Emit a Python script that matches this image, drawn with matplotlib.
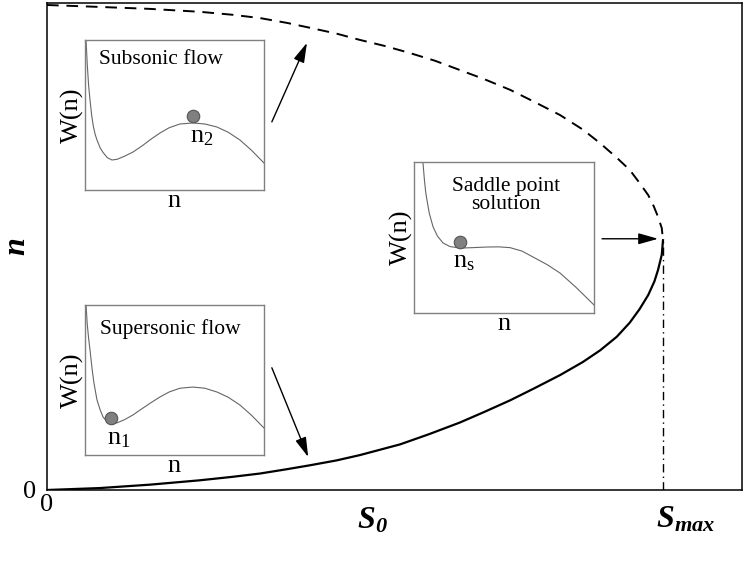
import matplotlib
matplotlib.use('Agg')
import matplotlib.pyplot as plt

plt.rcParams['font.family'] = ['Liberation Serif', 'DejaVu Serif']
plt.rcParams['mathtext.fontset'] = 'custom'
plt.rcParams['mathtext.rm'] = 'Liberation Serif'
plt.rcParams['mathtext.it'] = 'Liberation Serif:italic'
plt.rcParams['mathtext.bf'] = 'Liberation Serif:italic:bold'

# main curve, S0 (in units of S_max) against n (in units of its top value)
s0_lower = [0, 0.086, 0.167, 0.248, 0.30, 0.346, 0.39, 0.427, 0.47, 0.508, 0.573,
            0.62, 0.670, 0.71, 0.752, 0.79, 0.833, 0.87, 0.898, 0.925, 0.946,
            0.962, 0.976, 0.986, 0.992, 0.998, 1.0]
n_lower = [0, 0.004, 0.011, 0.020, 0.027, 0.034, 0.043, 0.051, 0.061, 0.072, 0.094,
           0.115, 0.139, 0.161, 0.185, 0.209, 0.237, 0.264, 0.288, 0.316, 0.345,
           0.373, 0.402, 0.43, 0.454, 0.485, 0.515]
s0_upper = [0, 0.086, 0.167, 0.248, 0.30, 0.346, 0.39, 0.427, 0.47, 0.508, 0.55,
            0.589, 0.630, 0.670, 0.71, 0.752, 0.79, 0.833, 0.87, 0.898, 0.925,
            0.946, 0.962, 0.976, 0.985, 0.992, 0.998, 1.0]
n_upper = [1.0, 0.996, 0.992, 0.986, 0.980, 0.973, 0.963, 0.953, 0.941, 0.928, 0.915,
           0.901, 0.885, 0.866, 0.847, 0.825, 0.801, 0.773, 0.743, 0.715, 0.685,
           0.660, 0.633, 0.608, 0.585, 0.563, 0.540, 0.515]
s_max = 1.0
n_s = 0.515

# potential W(n) in the insets (normalised to the inset box)
sub_n = [0.006, 0.012, 0.02, 0.028, 0.037, 0.047, 0.057, 0.067, 0.085, 0.101, 0.125,
         0.151, 0.18, 0.22, 0.268, 0.32, 0.37, 0.419, 0.47, 0.53, 0.603, 0.67,
         0.737, 0.80, 0.866, 0.93, 1.0]
sub_w = [1.0, 0.85, 0.70, 0.60, 0.50, 0.422, 0.37, 0.333, 0.28, 0.25, 0.215,
         0.20, 0.205, 0.225, 0.253, 0.295, 0.34, 0.38, 0.415, 0.44, 0.447, 0.44,
         0.42, 0.385, 0.333, 0.265, 0.18]
sub_dot = (0.603, 0.493)

sup_n = [0.006, 0.012, 0.02, 0.028, 0.04, 0.05, 0.067, 0.085, 0.101, 0.125, 0.151,
         0.18, 0.22, 0.268, 0.32, 0.37, 0.419, 0.47, 0.53, 0.603, 0.67, 0.737,
         0.80, 0.866, 0.93, 1.0]
sup_w = [1.0, 0.88, 0.78, 0.70, 0.57, 0.48, 0.367, 0.30, 0.253, 0.222, 0.207,
         0.215, 0.235, 0.267, 0.31, 0.35, 0.387, 0.42, 0.445, 0.453, 0.445, 0.42,
         0.385, 0.333, 0.265, 0.18]
sup_dot = (0.145, 0.247)

sad_n = [0.05, 0.058, 0.065, 0.072, 0.085, 0.106, 0.13, 0.161, 0.2, 0.256, 0.33,
         0.406, 0.47, 0.533, 0.6, 0.661, 0.74, 0.811, 0.9, 1.0]
sad_w = [0.993, 0.88, 0.80, 0.748, 0.66, 0.57, 0.51, 0.464, 0.44, 0.43, 0.433,
         0.437, 0.438, 0.433, 0.41, 0.371, 0.32, 0.265, 0.17, 0.053]
sad_dot = (0.256, 0.470)

W, H = 747, 565
fig = plt.figure(figsize=(W / 100, H / 100), dpi=100)


def px_box(left, top, right, bottom):
    return [left / W, (H - bottom) / H, (right - left) / W, (bottom - top) / H]


ax = fig.add_axes(px_box(47, 3, 742, 490))
ax.plot(s0_lower, n_lower, color='black', lw=1.6)
ax.plot(s0_upper, n_upper, color='black', lw=1.4, ls=(0, (6, 4)))
ax.plot([s_max, s_max], [0, n_s], color='black', lw=1.0, ls=(0, (6, 3, 1, 3)))
ax.set_xlim(0, 695 / 616)
ax.set_ylim(0, 487 / 485)
for sp in ax.spines.values():
    sp.set_linewidth(1.1)
ax.set_xticks([0])
ax.set_yticks([0])
ax.set_xticklabels(['0'], fontsize=19)
ax.set_yticklabels(['0'], fontsize=19)
ax.tick_params(axis='x', length=0, pad=3)
ax.tick_params(axis='y', length=0, pad=8)

ax.text(0.468, -0.063, r'$\mathbf{S_0}$', transform=ax.transAxes,
        ha='center', va='center', fontsize=23)
ax.text(-0.042, 0.5, r'$\mathbf{n}$', transform=ax.transAxes, rotation=90,
        ha='center', va='center', fontsize=23)
ax.text(1.036, -0.062, r'$\mathbf{S_{max}}$', transform=ax.get_xaxis_transform(),
        ha='center', va='center', fontsize=23)

arrow = dict(arrowstyle='-|>,head_length=0.6,head_width=0.17', color='black',
             lw=1.0, shrinkA=0, shrinkB=0, mutation_scale=20)
ax.annotate('', xy=(0.422, 0.922), xytext=(0.365, 0.759), arrowprops=arrow)
ax.annotate('', xy=(0.424, 0.068), xytext=(0.365, 0.252), arrowprops=arrow)
ax.annotate('', xy=(0.992, 0.518), xytext=(0.901, 0.518), arrowprops=arrow)


def inset(box, xs, ys, dot, title, title_xy, lab, lab_xy):
    a = fig.add_axes(px_box(*box))
    a.plot(xs, ys, color='#666666', lw=0.8)
    a.plot(*dot, 'o', ms=9, color='#808080', mec='#555555', mew=0.8)
    a.set_xlim(0, 1)
    a.set_ylim(0, 1)
    a.set_xticks([])
    a.set_yticks([])
    for sp in a.spines.values():
        sp.set_color('#808080')
        sp.set_linewidth(1.0)
    a.set_xlabel('n', fontsize=19, labelpad=0)
    a.set_ylabel('W(n)', fontsize=19, labelpad=1)
    a.text(*title_xy, title, transform=a.transAxes, ha='center', va='center',
           fontsize=15.5, linespacing=0.9)
    a.text(*lab_xy, lab, transform=a.transAxes, ha='center', va='center',
           fontsize=19)
    return a


inset((85, 40, 264, 190), sub_n, sub_w, sub_dot, 'Subsonic flow', (0.425, 0.867),
      r'$\mathrm{n}_2$', (0.65, 0.35))
inset((85, 305, 264, 455), sup_n, sup_w, sup_dot, 'Supersonic flow', (0.475, 0.84),
      r'$\mathrm{n}_1$', (0.19, 0.11))
inset((414, 162, 594, 313), sad_n, sad_w, sad_dot, 'Saddle point\nsolution', (0.511, 0.78),
      r'$\mathrm{n}_\mathrm{s}$', (0.28, 0.335))

fig.savefig('out.png', dpi=100)
